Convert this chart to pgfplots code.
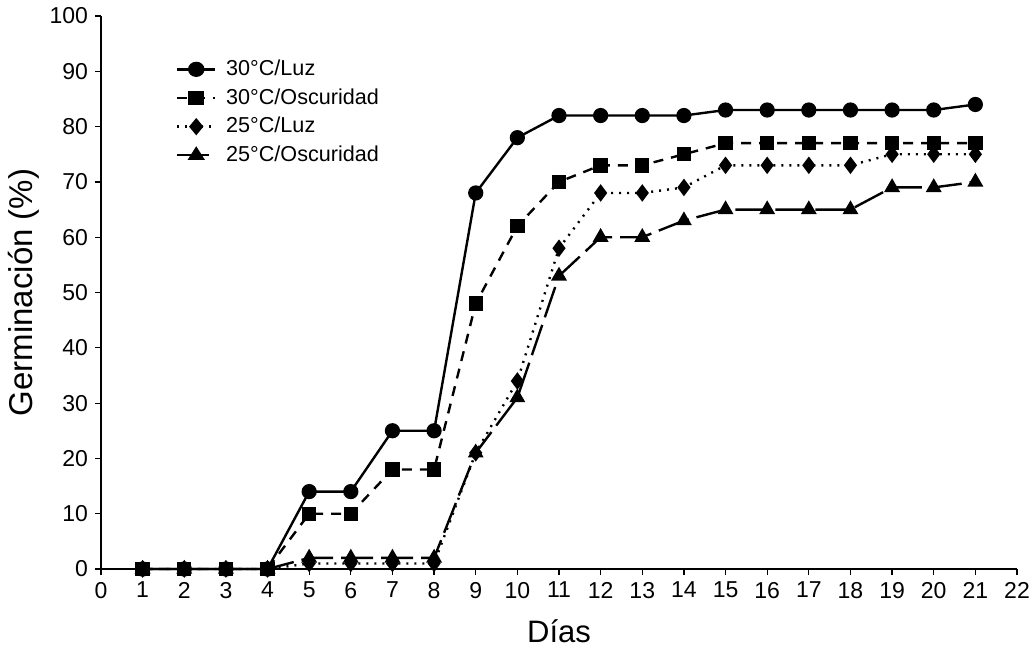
\documentclass[border=0pt]{standalone}
\usepackage{pgfplots}
\pgfplotsset{compat=1.18}
\usepackage{fontspec}
\setmainfont{Liberation Sans}
\newcommand\tickfont{\fontsize{11.5}{13.5}\selectfont}
\newcommand\xlabfont{\fontsize{15.5}{18}\selectfont}
\newcommand\ylabfont{\fontsize{16.5}{19}\selectfont}
\newcommand\legfont{\fontsize{10.8}{13}\selectfont}
\begin{document}
\begin{tikzpicture}
\path[use as bounding box] (-50.5pt,-43pt) rectangle (466.5pt,284.5pt);
\begin{axis}[
  at={(0,0)}, anchor=south west,
  scale only axis, width=458pt, height=276.5pt,
  xmin=0, xmax=22, ymin=0, ymax=100,
  axis lines=left, axis line style={-, line width=0.6pt},
  xtick={0,1,...,22}, ytick={0,10,...,100},
  tick align=outside, major tick length=3pt,
  tick style={black, line width=0.6pt},
  /pgf/number format/assume math mode=true,
  xticklabel style={font=\tickfont},
  yticklabel style={font=\tickfont},
  xlabel={Días}, ylabel={Germinación (\%)},
  xlabel style={font=\xlabfont, yshift=-4pt},
  ylabel style={font=\ylabfont, yshift=-2pt},
  clip=false,
  legend style={draw=none, fill=none, at={(axis cs:1.75,93.2)}, anchor=north west,
    font=\legfont, row sep=1pt, inner sep=1pt,
    /tikz/every odd column/.append style={column sep=3pt}},
  legend image post style={xscale=1.1},
  legend cell align=left,
  every axis plot/.append style={line width=1.2pt, black},
]
\addplot[mark=*, mark size=3.2pt, solid] coordinates {
(1,0)(2,0)(3,0)(4,0)(5,14)(6,14)(7,25)(8,25)(9,68)(10,78)(11,82)(12,82)(13,82)(14,82)(15,83)(16,83)(17,83)(18,83)(19,83)(20,83)(21,84)};
\addlegendentry{30°C/Luz}
\addplot[mark=square*, mark size=3pt, dash pattern=on 5pt off 4pt, mark options={solid}] coordinates {
(1,0)(2,0)(3,0)(4,0)(5,10)(6,10)(7,18)(8,18)(9,48)(10,62)(11,70)(12,73)(13,73)(14,75)(15,77)(16,77)(17,77)(18,77)(19,77)(20,77)(21,77)};
\addlegendentry{30°C/Oscuridad}
\addplot[mark=diamond*, mark size=3.4pt, dash pattern=on 1pt off 3pt, mark options={solid}] coordinates {
(1,0)(2,0)(3,0)(4,0)(5,1)(6,1)(7,1)(8,1)(9,21)(10,34)(11,58)(12,68)(13,68)(14,69)(15,73)(16,73)(17,73)(18,73)(19,75)(20,75)(21,75)};
\addlegendentry{25°C/Luz}
\addplot[mark=triangle*, mark size=3.4pt, dash pattern=on 16pt off 4pt, mark options={solid}] coordinates {
(1,0)(2,0)(3,0)(4,0)(5,2)(6,2)(7,2)(8,2)(9,21)(10,31)(11,53)(12,60)(13,60)(14,63)(15,65)(16,65)(17,65)(18,65)(19,69)(20,69)(21,70)};
\addlegendentry{25°C/Oscuridad}
\end{axis}
\end{tikzpicture}
\end{document}
